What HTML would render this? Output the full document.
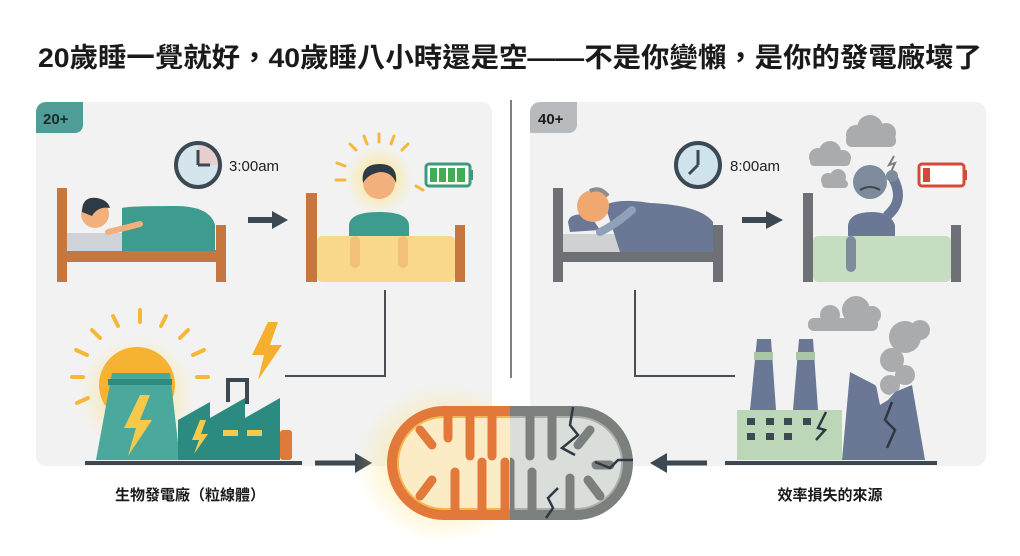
<!DOCTYPE html>
<html><head><meta charset="utf-8"><style>
html,body{margin:0;padding:0;background:#fff;}
svg{display:block;}
text{font-family:"Liberation Sans","Noto Sans CJK TC",sans-serif;}
</style></head><body>
<svg width="1020" height="556" viewBox="0 0 1020 556" xmlns="http://www.w3.org/2000/svg">
<defs>
<radialGradient id="glowY"><stop offset="0" stop-color="#ffe27a" stop-opacity="0.9"/><stop offset="1" stop-color="#ffe27a" stop-opacity="0"/></radialGradient>
<clipPath id="cl"><rect x="380" y="395" width="130" height="140"/></clipPath>
<clipPath id="cr"><rect x="510" y="395" width="130" height="140"/></clipPath>
</defs>
<rect width="1020" height="556" fill="#fff"/>
<text x="38" y="67" font-size="27" font-weight="bold" fill="#1a1a1a" textLength="944" lengthAdjust="spacingAndGlyphs">20歲睡一覺就好，40歲睡八小時還是空——不是你變懶，是你的發電廠壞了</text>

<!-- panels -->
<rect x="36" y="102" width="456" height="364" rx="10" fill="#f2f2f2"/>
<rect x="530" y="102" width="456" height="364" rx="10" fill="#f2f2f2"/>
<line x1="511" y1="100" x2="511" y2="378" stroke="#555" stroke-width="1.5"/>

<!-- badges -->
<path d="M36 112 a10 10 0 0 1 10 -10 H83 V125 a8 8 0 0 1 -8 8 H36 Z" fill="#4f9d96"/>
<text x="43" y="124" font-size="15" font-weight="bold" fill="#1c2a2a">20+</text>
<path d="M530 112 a10 10 0 0 1 10 -10 H577 V125 a8 8 0 0 1 -8 8 H530 Z" fill="#b7bbbe"/>
<text x="538" y="124" font-size="15" font-weight="bold" fill="#1c1c1c">40+</text>

<!-- LEFT: clock -->
<circle cx="198" cy="165" r="22" fill="#d4e6ec" stroke="#3c4852" stroke-width="4"/>
<path d="M198 165 L198 145 A20 20 0 0 1 218 165 Z" fill="#e8cfcf"/>
<line x1="198" y1="165" x2="198" y2="150" stroke="#3c4852" stroke-width="3"/>
<line x1="198" y1="165" x2="210" y2="165" stroke="#3c4852" stroke-width="3"/>
<text x="229" y="171" font-size="15" fill="#222">3:00am</text>

<!-- left bed 1 -->
<rect x="57" y="188" width="10" height="94" fill="#c6773f"/>
<rect x="216" y="225" width="10" height="57" fill="#c6773f"/>
<rect x="57" y="250" width="169" height="12" fill="#c6773f"/>
<rect x="67" y="233" width="60" height="18" fill="#cfd3d8"/>
<path d="M122 208 Q128 206 175 206 Q210 206 215 225 L215 251 L122 251 Z" fill="#3e9c8f"/>
<circle cx="95" cy="214" r="14" fill="#f2b07c"/>
<path d="M82 212 Q82 196 97 198 Q108 200 110 208 Q98 206 92 216 Z" fill="#2f3b44"/>
<path d="M108 232 Q125 228 140 224" stroke="#f2b07c" stroke-width="6" fill="none" stroke-linecap="round"/>
<path d="M248 220 H274" stroke="#3c4852" stroke-width="6"/>
<path d="M272 211 L288 220 L272 229 Z" fill="#3c4852"/>

<!-- left bed 2 with person -->
<circle cx="379" cy="180" r="34" fill="url(#glowY)"/>
<g stroke="#f5b83a" stroke-width="3" stroke-linecap="round">
<line x1="379" y1="134" x2="379" y2="142"/><line x1="394" y1="136" x2="391" y2="144"/><line x1="364" y1="136" x2="367" y2="144"/>
<line x1="408" y1="144" x2="402" y2="150"/><line x1="350" y1="144" x2="356" y2="150"/><line x1="336" y1="180" x2="345" y2="180"/>
<line x1="337" y1="163" x2="345" y2="166"/><line x1="423" y1="190" x2="416" y2="186"/>
</g>
<rect x="306" y="193" width="11" height="89" fill="#c6773f"/>
<rect x="455" y="225" width="10" height="57" fill="#c6773f"/>
<path d="M349 246 V226 Q349 212 379 212 Q409 212 409 226 V246 Z" fill="#3e9c8f"/>
<circle cx="379" cy="183" r="16" fill="#f2b07c"/>
<path d="M363 183 Q360 164 380 164 Q398 164 396 183 Q392 172 380 172 Q368 174 363 183 Z" fill="#2f3b44"/>
<rect x="317" y="236" width="138" height="46" rx="5" fill="#f9d88c"/>
<rect x="350" y="236" width="10" height="32" rx="5" fill="#f3c07a"/>
<rect x="398" y="236" width="10" height="32" rx="5" fill="#f3c07a"/>
<!-- battery -->
<rect x="426" y="164" width="44" height="22" rx="3" fill="#fff" stroke="#3f9a7c" stroke-width="3"/>
<rect x="470" y="170" width="3" height="10" fill="#3f9a7c"/>
<g fill="#3fae55"><rect x="430" y="168" width="7" height="14"/><rect x="439" y="168" width="7" height="14"/><rect x="448" y="168" width="7" height="14"/><rect x="457" y="168" width="8" height="14"/></g>

<!-- connector left -->
<path d="M385 290 V376 H285" stroke="#4a4f55" stroke-width="2" fill="none"/>

<!-- power plant -->
<circle cx="137" cy="395" r="58" fill="url(#glowY)"/>
<g stroke="#f5b83a" stroke-width="4" stroke-linecap="round">
<line x1="140" y1="310" x2="140" y2="322"/><line x1="113" y1="316" x2="118" y2="326"/><line x1="166" y1="316" x2="161" y2="326"/>
<line x1="92" y1="330" x2="100" y2="338"/><line x1="188" y1="330" x2="180" y2="338"/>
<line x1="76" y1="350" x2="87" y2="355"/><line x1="204" y1="350" x2="193" y2="355"/>
<line x1="72" y1="377" x2="83" y2="377"/><line x1="208" y1="377" x2="197" y2="377"/>
<line x1="77" y1="403" x2="88" y2="398"/>
</g>
<circle cx="137" cy="385" r="38" fill="#f6b233"/>
<path d="M112 373 H170 L180 460 H96 Z" fill="#4aa89c"/>
<rect x="108" y="379" width="64" height="6" fill="#2f8a80"/>
<path d="M140 395 L124 428 H136 L128 456 L152 420 H140 L150 395 Z" fill="#f7c94a"/>
<path d="M178 460 V420 L210 402 V418 L245 398 V418 L280 398 V460 Z" fill="#2c8b80"/>
<path d="M228 402 V380 H247 V404" stroke="#3c4852" stroke-width="4" fill="none"/>
<path d="M200 420 L192 440 H199 L194 454 L208 434 H201 L206 420 Z" fill="#f7c94a"/>
<rect x="223" y="430" width="15" height="6" fill="#f7c94a"/><rect x="247" y="430" width="15" height="6" fill="#f7c94a"/>
<rect x="280" y="430" width="12" height="30" rx="3" fill="#e07a3a"/>
<path d="M268 322 L252 355 H264 L258 380 L282 345 H270 L278 322 Z" fill="#f5b02e"/>
<rect x="85" y="461" width="217" height="4" fill="#3c4852"/>
<path d="M315 463 H358" stroke="#3c4852" stroke-width="5"/>
<path d="M355 453 L372 463 L355 473 Z" fill="#3c4852"/>
<text x="190" y="500" font-size="15" font-weight="bold" fill="#1a1a1a" text-anchor="middle">生物發電廠（粒線體）</text>

<!-- RIGHT: clock -->
<circle cx="698" cy="165" r="22" fill="#cfe3ec" stroke="#3c4852" stroke-width="4"/>
<line x1="698" y1="165" x2="698" y2="150" stroke="#3c4852" stroke-width="3"/>
<line x1="698" y1="165" x2="689" y2="174" stroke="#3c4852" stroke-width="3"/>
<text x="730" y="171" font-size="15" fill="#222">8:00am</text>

<!-- right bed 1 -->
<rect x="553" y="188" width="10" height="94" fill="#6d7175"/>
<rect x="713" y="225" width="10" height="57" fill="#6d7175"/>
<rect x="553" y="250" width="170" height="12" fill="#6d7175"/>
<rect x="563" y="234" width="60" height="18" fill="#cfd1d3"/>
<path d="M568 222 Q570 212 590 215 L600 230 L570 232 Z" fill="#6a7895"/>
<path d="M605 205 Q620 198 650 203 Q700 205 713 222 V252 H620 Z" fill="#6a7895"/>
<circle cx="593" cy="206" r="16" fill="#f0a770"/>
<path d="M590 191 Q600 186 608 196" stroke="#8a8e92" stroke-width="4" fill="none"/>
<path d="M600 232 Q615 225 632 210" stroke="#8ea1b8" stroke-width="8" fill="none" stroke-linecap="round"/>
<path d="M742 220 H768" stroke="#3c4852" stroke-width="6"/>
<path d="M766 211 L783 220 L766 229 Z" fill="#3c4852"/>

<!-- right bed 2 -->
<g fill="#a9abad">
<circle cx="818" cy="157" r="9"/><circle cx="830" cy="152" r="11"/><circle cx="843" cy="158" r="8"/><rect x="810" y="157" width="40" height="9" rx="4"/>
<circle cx="856" cy="135" r="10"/><circle cx="870" cy="128" r="13"/><circle cx="886" cy="133" r="10"/><rect x="846" y="134" width="50" height="13" rx="6"/>
<circle cx="828" cy="180" r="7"/><circle cx="838" cy="177" r="8"/><rect x="822" y="180" width="26" height="8" rx="4"/>
</g>
<path d="M894 156 L889 165 L895 163 L891 172" stroke="#7a7d80" stroke-width="2" fill="none"/>
<rect x="803" y="193" width="10" height="89" fill="#6d7175"/>
<rect x="951" y="225" width="10" height="57" fill="#6d7175"/>
<path d="M848 246 V225 Q850 212 872 212 Q890 212 895 225 V246 Z" fill="#6a7895"/>
<circle cx="870" cy="182" r="17" fill="#7d8b9d"/>
<path d="M860 190 Q870 184 880 190" stroke="#3c4852" stroke-width="2" fill="none"/>
<path d="M888 215 Q905 200 893 178" stroke="#6a7895" stroke-width="10" fill="none" stroke-linecap="round"/>
<circle cx="892" cy="176" r="6" fill="#7d8b9d"/>
<rect x="813" y="236" width="138" height="46" rx="5" fill="#c6ddc2"/>
<rect x="846" y="236" width="10" height="36" rx="5" fill="#7d8b9d"/>
<!-- battery red -->
<rect x="919" y="164" width="45" height="22" rx="3" fill="#fff" stroke="#d44a3a" stroke-width="3"/>
<rect x="964" y="170" width="3" height="10" fill="#d44a3a"/>
<rect x="923" y="168" width="7" height="14" fill="#d44a3a"/>

<!-- connector right -->
<path d="M635 290 V376 H735" stroke="#4a4f55" stroke-width="2" fill="none"/>

<!-- broken factory -->
<g fill="#a9abad">
<circle cx="830" cy="315" r="10"/><circle cx="856" cy="310" r="14"/><circle cx="872" cy="315" r="9"/><rect x="808" y="318" width="70" height="13" rx="6"/>
<circle cx="905" cy="337" r="16"/><circle cx="892" cy="360" r="12"/><circle cx="905" cy="375" r="10"/><circle cx="890" cy="385" r="10"/><circle cx="920" cy="330" r="10"/>
</g>
<path d="M757 339 H771 L776 410 H750 Z" fill="#6a7895"/>
<rect x="754" y="352" width="19" height="8" fill="#a9c6a5"/>
<path d="M799 339 H813 L818 410 H793 Z" fill="#6a7895"/>
<rect x="796" y="352" width="19" height="8" fill="#a9c6a5"/>
<rect x="737" y="410" width="105" height="50" fill="#bcd7b8"/>
<g fill="#3c4852"><rect x="747" y="418" width="8" height="7"/><rect x="766" y="418" width="8" height="7"/><rect x="784" y="418" width="8" height="7"/><rect x="803" y="418" width="8" height="7"/><rect x="747" y="433" width="8" height="7"/><rect x="766" y="433" width="8" height="7"/><rect x="784" y="433" width="8" height="7"/></g>
<path d="M842 460 L850 372 L875 385 L885 398 L895 392 L912 385 L925 460 Z" fill="#6a7895"/>
<path d="M876 385 L880 405 L872 410 L888 400 L895 392 L885 398 Z" fill="#f2f2f2"/>
<path d="M892 402 L885 420 L895 430 L887 448" stroke="#2f3844" stroke-width="2.5" fill="none"/>
<path d="M826 412 L818 428 L825 430 L816 440" stroke="#2f3844" stroke-width="2.5" fill="none"/>
<rect x="725" y="461" width="212" height="4" fill="#3c4852"/>
<path d="M707 463 H665" stroke="#3c4852" stroke-width="5"/>
<path d="M667 453 L650 463 L667 473 Z" fill="#3c4852"/>
<text x="830" y="500" font-size="15" font-weight="bold" fill="#1a1a1a" text-anchor="middle">效率損失的來源</text>

<!-- mitochondrion -->
<ellipse cx="445" cy="463" rx="90" ry="80" fill="url(#glowY)"/>
<g clip-path="url(#cl)">
<rect x="387" y="406" width="246" height="114" rx="57" fill="#e2793a"/>
<rect x="398" y="417" width="224" height="92" rx="46" fill="#fcecc6" stroke="#f4b84e" stroke-width="2"/>
<g stroke="#e2793a" stroke-width="9" stroke-linecap="round">
<line x1="470" y1="417" x2="470" y2="456"/><line x1="492" y1="417" x2="492" y2="456"/><line x1="448" y1="417" x2="448" y2="438"/>
<line x1="455" y1="509" x2="455" y2="472"/><line x1="482" y1="509" x2="482" y2="462"/><line x1="505" y1="509" x2="505" y2="462"/>
<line x1="420" y1="430" x2="432" y2="445"/><line x1="420" y1="496" x2="432" y2="480"/>
</g>
</g>
<g clip-path="url(#cr)">
<rect x="387" y="406" width="246" height="114" rx="57" fill="#7b807d"/>
<rect x="398" y="417" width="224" height="92" rx="46" fill="#d9dedb" stroke="#a9afab" stroke-width="2"/>
<g stroke="#7b807d" stroke-width="9" stroke-linecap="round">
<line x1="530" y1="417" x2="530" y2="456"/><line x1="552" y1="417" x2="552" y2="456"/><line x1="510" y1="462" x2="510" y2="509"/>
<line x1="532" y1="509" x2="532" y2="472"/><line x1="570" y1="509" x2="570" y2="478"/>
<line x1="590" y1="430" x2="578" y2="445"/><line x1="600" y1="496" x2="588" y2="480"/><line x1="610" y1="465" x2="596" y2="465"/>
</g>
<path d="M573 407 L570 425 L578 435 L562 448 L575 455" stroke="#2f3844" stroke-width="2.5" fill="none"/>
<path d="M633 460 L618 460 L610 468 L595 462" stroke="#2f3844" stroke-width="2.5" fill="none"/>
<path d="M558 488 L548 498 L553 508 L546 518" stroke="#2f3844" stroke-width="2.5" fill="none"/>
</g>
</svg>
</body></html>
